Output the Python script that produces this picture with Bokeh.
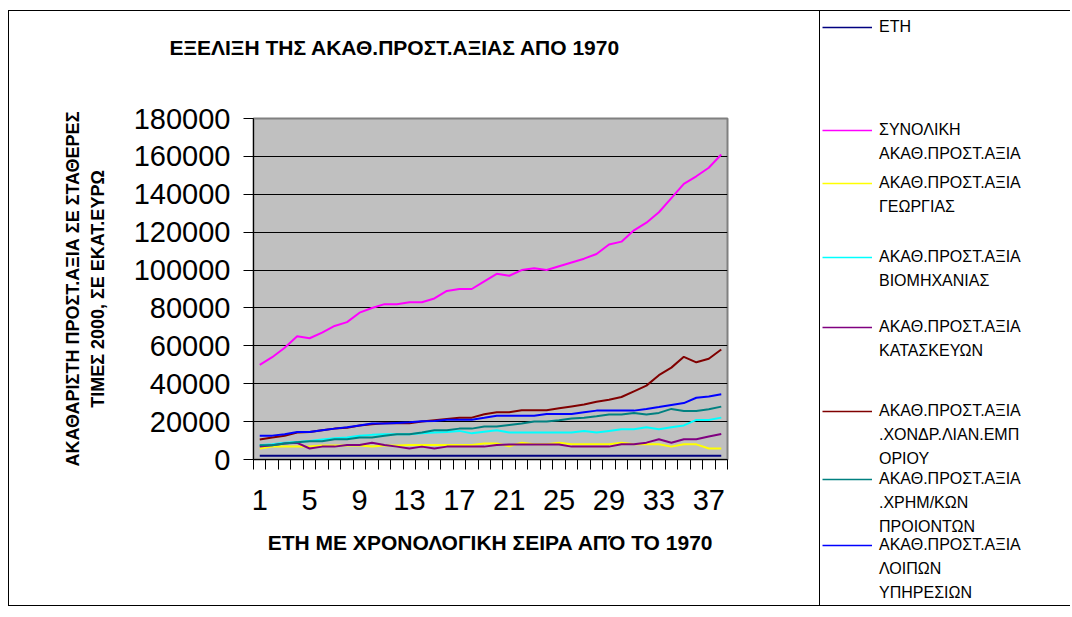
from bokeh.plotting import figure
from bokeh.layouts import row
from bokeh.models import (Legend, LegendItem, Title, FixedTicker,
                          NumeralTickFormatter, Range1d)
from bokeh.embed import file_html
from bokeh.resources import INLINE

# ---------------- data ----------------
years = [1970, 1971, 1972, 1973, 1974, 1975, 1976, 1977, 1978, 1979,
         1980, 1981, 1982, 1983, 1984, 1985, 1986, 1987, 1988, 1989,
         1990, 1991, 1992, 1993, 1994, 1995, 1996, 1997, 1998, 1999,
         2000, 2001, 2002, 2003, 2004, 2005, 2006, 2007]
total = [50000, 54000, 59000, 65000, 64000, 67000, 70500, 72500, 77500, 80000,
         82000, 82000, 83000, 83000, 85000, 89000, 90000, 90000, 94000, 98000,
         97000, 100000, 101000, 100000, 102000, 104000, 106000, 108500, 113500, 115000,
         121000, 125000, 130500, 138000, 145500, 149500, 154000, 161000]
agriculture = [5800, 6800, 6800, 6800, 6800, 7400, 7400, 7400, 7400, 6800,
               7400, 7400, 7700, 7700, 7700, 7700, 7700, 7700, 8400, 8400,
               7000, 8800, 8000, 8000, 8800, 8000, 8000, 8000, 8000, 8800,
               8000, 8000, 8000, 6800, 8000, 8000, 5800, 5800]
industry = [7500, 8000, 8800, 9300, 9800, 10500, 11200, 11600, 12500, 13000,
            13300, 13300, 13300, 13800, 14200, 14500, 15100, 13800, 14700, 15400,
            14200, 14200, 14200, 14200, 14200, 14200, 15100, 14200, 15100, 16000,
            16000, 17000, 16000, 17000, 18000, 20900, 20900, 22100]
construction = [6800, 7500, 8400, 8800, 5800, 6800, 6800, 7700, 7700, 8800,
                7700, 6800, 5800, 6800, 5800, 6800, 6800, 6800, 6800, 7700,
                7900, 7900, 7900, 7900, 7900, 6800, 6800, 6800, 6800, 8000,
                8000, 8900, 10700, 8800, 10700, 10700, 12100, 13500]
trade = [10500, 11600, 12500, 14200, 14500, 15400, 16300, 16700, 18000, 18600,
         19100, 19100, 19100, 20000, 20700, 21400, 22100, 22100, 23900, 24900,
         24900, 26000, 26000, 26000, 27000, 28000, 29000, 30500, 31500, 33000,
         36000, 39000, 44500, 48500, 54200, 51300, 53200, 58100]
finance = [7500, 7500, 8400, 9100, 9600, 9600, 10700, 10700, 11600, 11600,
           12500, 13300, 13300, 14200, 15400, 15400, 16300, 16300, 17400, 17400,
           18200, 19000, 20000, 20000, 20700, 21700, 22000, 22800, 23700, 23700,
           24600, 23700, 24600, 26700, 25600, 25600, 26500, 27900]
services = [12600, 12600, 13300, 14500, 14500, 15400, 16300, 17000, 18000, 19000,
            19000, 19300, 19600, 20200, 20300, 21000, 21000, 21000, 22000, 23100,
            23100, 23100, 23100, 24000, 24000, 24000, 24900, 25800, 25800, 25800,
            25800, 26700, 27700, 28800, 29800, 32600, 33300, 34400]

# legend entries, one list of text lines per series
series_names = [
    ["ΕΤΗ"],
    ["ΣΥΝΟΛΙΚΗ", "ΑΚΑΘ.ΠΡΟΣΤ.ΑΞΙΑ"],
    ["ΑΚΑΘ.ΠΡΟΣΤ.ΑΞΙΑ", "ΓΕΩΡΓΙΑΣ"],
    ["ΑΚΑΘ.ΠΡΟΣΤ.ΑΞΙΑ", "ΒΙΟΜΗΧΑΝΙΑΣ"],
    ["ΑΚΑΘ.ΠΡΟΣΤ.ΑΞΙΑ", "ΚΑΤΑΣΚΕΥΩΝ"],
    ["ΑΚΑΘ.ΠΡΟΣΤ.ΑΞΙΑ", ".ΧΟΝΔΡ.ΛΙΑΝ.ΕΜΠ", "ΟΡΙΟΥ"],
    ["ΑΚΑΘ.ΠΡΟΣΤ.ΑΞΙΑ", ".ΧΡΗΜ/ΚΩΝ", "ΠΡΟΙΟΝΤΩΝ"],
    ["ΑΚΑΘ.ΠΡΟΣΤ.ΑΞΙΑ", "ΛΟΙΠΩΝ", "ΥΠΗΡΕΣΙΩΝ"],
]
series_colors = ["#000080", "#FF00FF", "#FFFF00", "#00FFFF",
                 "#800080", "#800000", "#008080", "#0000FF"]
y_ticks = [0, 20000, 40000, 60000, 80000, 100000, 120000, 140000, 160000, 180000]
x_label_step = 4

title_text = "ΕΞΕΛΙΞΗ ΤΗΣ ΑΚΑΘ.ΠΡΟΣΤ.ΑΞΙΑΣ ΑΠΟ 1970"
x_title = "ΕΤΗ ΜΕ ΧΡΟΝΟΛΟΓΙΚΗ ΣΕΙΡΑ ΑΠΌ ΤΟ 1970"
y_title = "ΑΚΑΘΑΡΙΣΤΗ ΠΡΟΣΤ.ΑΞΙΑ ΣΕ ΣΤΑΘΕΡΕΣ\nΤΙΜΕΣ 2000, ΣΕ ΕΚΑΤ.ΕΥΡΩ"

# ---------------- chart figure ----------------
FONT = "Liberation Sans"
n = len(years)
xs = list(range(1, n + 1))

fig = figure(width=811, height=596, output_backend="svg", toolbar_location=None,
             x_range=Range1d(0.5, n + 0.5), y_range=Range1d(y_ticks[0], y_ticks[-1]),
             min_border_left=244, min_border_right=93,
             min_border_top=107, min_border_bottom=148)
fig.styles = {"margin-left": "8px", "margin-top": "10px",
              "border-left": "1px solid black", "border-top": "1px solid black",
              "border-bottom": "1px solid black"}
fig.background_fill_color = "#C0C0C0"
fig.border_fill_color = "white"
fig.outline_line_color = "#808080"
fig.outline_line_width = 2

# spacer panel (nearest to the frame), then the title above it
fig.add_layout(Title(text=" ", standoff=55, text_font_size="1px"), "above")
fig.add_layout(Title(text=title_text, align="left", offset=-84, standoff=0,
                     vertical_align="top",
                     text_font=FONT, text_font_size="21px", text_font_style="bold",
                     text_color="black"), "above")

yax = fig.yaxis[0]
yax.ticker = FixedTicker(ticks=y_ticks)
yax.formatter = NumeralTickFormatter(format="0")
yax.major_label_text_font = FONT
yax.major_label_text_font_size = "29px"
yax.major_label_text_color = "black"
yax.major_tick_out = 10
yax.major_tick_in = 0
yax.minor_tick_line_color = None
yax.axis_line_color = "black"
yax.major_tick_line_color = "black"
yax.major_label_standoff = 13
yax.axis_label = y_title
yax.axis_label_text_font = FONT
yax.axis_label_text_font_size = "18px"
yax.axis_label_text_font_style = "bold"
yax.axis_label_text_color = "black"
yax.axis_label_text_line_height = 1.22
yax.axis_label_standoff = 23

xax = fig.xaxis[0]
xax.ticker = FixedTicker(ticks=xs, minor_ticks=[i + 0.5 for i in range(0, n + 1)])
xax.major_label_overrides = {i: (str(i) if (i - 1) % x_label_step == 0 else "") for i in xs}
xax.major_tick_line_color = None
xax.major_tick_out = 10
xax.major_tick_in = 0
xax.minor_tick_out = 10
xax.minor_tick_in = 0
xax.minor_tick_line_color = "black"
xax.axis_line_color = "black"
xax.major_label_text_font = FONT
xax.major_label_text_font_size = "29px"
xax.major_label_text_color = "black"
xax.major_label_standoff = 20
xax.axis_label = x_title
xax.axis_label_text_font = FONT
xax.axis_label_text_font_size = "21px"
xax.axis_label_text_font_style = "bold"
xax.axis_label_text_color = "black"
xax.axis_label_standoff = 18

fig.xgrid.visible = False
fig.ygrid[0].ticker = FixedTicker(ticks=y_ticks)
fig.ygrid.grid_line_color = "black"
fig.ygrid.grid_line_width = 1

all_series = [years, total, agriculture, industry, construction, trade, finance, services]
for vals, col in zip(all_series, series_colors):
    fig.line(xs, vals, line_color=col, line_width=2)

# ---------------- legend figure ----------------
lfig = figure(width=251, height=596, output_backend="svg", toolbar_location=None,
              x_range=Range1d(0, 1), y_range=Range1d(0, 1), min_border=0)
lfig.styles = {"margin-top": "10px", "border-left": "1px solid black",
               "border-top": "1px solid black", "border-bottom": "1px solid black"}
lfig.axis.visible = False
lfig.grid.visible = False
lfig.outline_line_color = None
lfig.background_fill_color = "white"
lfig.border_fill_color = "white"
for f in (fig, lfig):
    try:
        f.frame_align = False
    except Exception:
        pass

NAN = float("nan")
blank = lfig.line([NAN], [NAN], line_alpha=0)
ROW = 24
first_line_y = [27, 130, 183, 257, 327, 411, 479, 545]   # from top of page
legend_bottom = 607
for lines, col, fy in zip(series_names, series_colors, first_line_y):
    proxy = lfig.line([NAN], [NAN], line_color=col, line_width=1.5)
    items = [LegendItem(label=lines[0], renderers=[proxy])]
    items += [LegendItem(label=t, renderers=[blank]) for t in lines[1:]]
    bottom = fy - ROW / 2 + ROW * len(lines)
    lg = Legend(items=items, location=(2, legend_bottom - bottom),
                orientation="vertical", border_line_color=None,
                background_fill_alpha=0, padding=0, margin=0, spacing=0,
                glyph_width=50, glyph_height=ROW, label_height=ROW,
                label_standoff=7, label_text_font=FONT, label_text_font_size="16px",
                label_text_color="black")
    lfig.add_layout(lg)

p = row(fig, lfig)
open("out.html", "w").write(file_html(p, INLINE))
